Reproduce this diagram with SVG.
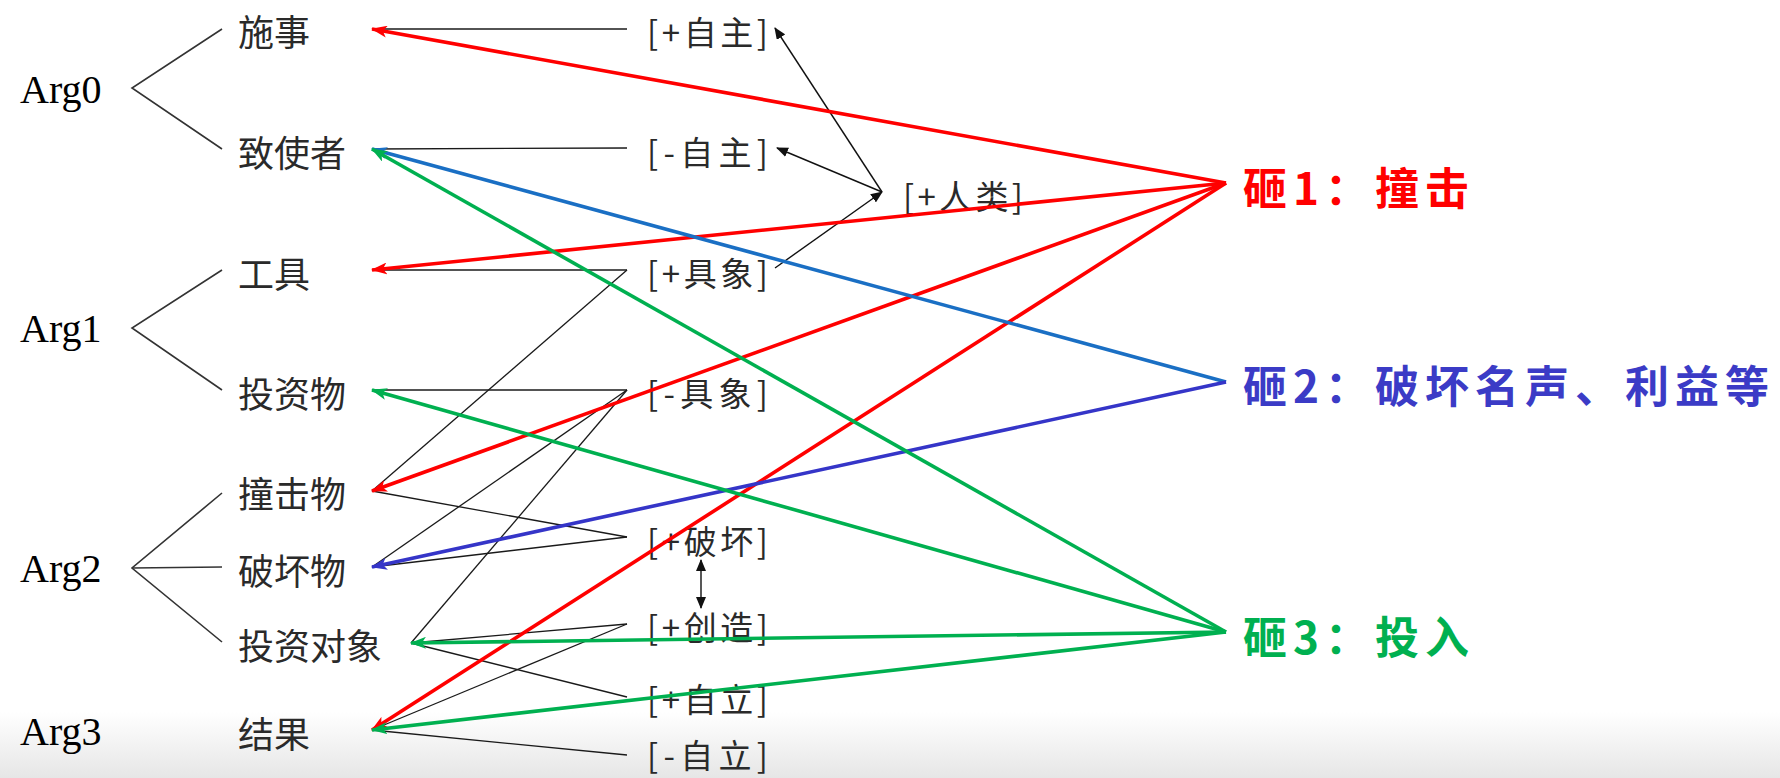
<svg xmlns="http://www.w3.org/2000/svg" width="1780" height="778" viewBox="0 0 1780 778">
<defs>
<linearGradient id="bg" x1="0" y1="0" x2="0" y2="1"><stop offset="0" stop-color="#ffffff"/><stop offset="1" stop-color="#e6e6e6"/></linearGradient>
<marker id="ar" viewBox="0 0 16 12" refX="15" refY="6" markerWidth="16" markerHeight="12" markerUnits="userSpaceOnUse" orient="auto"><path d="M0,0 L16,6 L0,12 L4,6 Z" fill="#ff0000"/></marker>
<marker id="ag" viewBox="0 0 16 12" refX="15" refY="6" markerWidth="16" markerHeight="12" markerUnits="userSpaceOnUse" orient="auto"><path d="M0,0 L16,6 L0,12 L4,6 Z" fill="#00b050"/></marker>
<marker id="ab1" viewBox="0 0 16 12" refX="15" refY="6" markerWidth="16" markerHeight="12" markerUnits="userSpaceOnUse" orient="auto"><path d="M0,0 L16,6 L0,12 L4,6 Z" fill="#1a6fc4"/></marker>
<marker id="ab2" viewBox="0 0 16 12" refX="15" refY="6" markerWidth="16" markerHeight="12" markerUnits="userSpaceOnUse" orient="auto"><path d="M0,0 L16,6 L0,12 L4,6 Z" fill="#3535c8"/></marker>
<marker id="ak" viewBox="0 0 12 10" refX="11" refY="5" markerWidth="12" markerHeight="10" markerUnits="userSpaceOnUse" orient="auto-start-reverse"><path d="M0,0 L12,5 L0,10 Z" fill="#111"/></marker>
</defs>
<style>
.arg{font-family:"Liberation Serif",serif;font-size:40px;fill:#000}
.lab{font-family:"Noto Sans CJK SC",sans-serif;font-size:36px;fill:#2a2a2a;dominant-baseline:central}
.feat{font-family:"Noto Sans CJK SC",sans-serif;font-size:33px;fill:#2a2a2a;dominant-baseline:central}
.sense{font-family:"Noto Sans CJK SC",sans-serif;font-size:44px;font-weight:bold;letter-spacing:6px;dominant-baseline:central}
.br{stroke:#333;stroke-width:1.6;fill:none}
.thin{stroke:#1a1a1a;stroke-width:1.3;fill:none}
.red{stroke:#ff0000;stroke-width:3.6;fill:none;marker-end:url(#ar)}
.grn{stroke:#00b050;stroke-width:3.6;fill:none;marker-end:url(#ag)}
.blu1{stroke:#1a6fc4;stroke-width:3.6;fill:none;marker-end:url(#ab1)}
.blu2{stroke:#3535c8;stroke-width:3.6;fill:none;marker-end:url(#ab2)}
.ka{stroke:#111;stroke-width:1.4;fill:none;marker-end:url(#ak)}
</style>
<rect x="0" y="0" width="1780" height="778" fill="#fff"/>
<rect x="0" y="712" width="1780" height="66" fill="url(#bg)"/>

<g id="arg0"><text class="arg" x="20" y="103">Arg0</text><polyline class="br" points="222,29 132,88 222,149"/></g>
<g id="arg1"><text class="arg" x="20" y="342">Arg1</text><polyline class="br" points="222,270 132,328 222,390"/></g>
<g id="arg2"><text class="arg" x="20" y="582">Arg2</text><polyline class="br" points="222,493 132,568 222,642"/><line class="br" x1="132" y1="568" x2="222" y2="567"/></g>
<g id="arg3"><text class="arg" x="20" y="745">Arg3</text></g>

<g id="shishi"><text class="lab" x="238" y="30">施事</text></g>
<g id="zhishizhe"><text class="lab" x="238" y="151">致使者</text></g>
<g id="gongju"><text class="lab" x="238" y="272">工具</text></g>
<g id="touziwu"><text class="lab" x="238" y="392">投资物</text></g>
<g id="zhuangjiwu"><text class="lab" x="238" y="492">撞击物</text></g>
<g id="pohuaiwu"><text class="lab" x="238" y="569">破坏物</text></g>
<g id="touziduixiang"><text class="lab" x="238" y="644">投资对象</text></g>
<g id="jieguo"><text class="lab" x="238" y="732">结果</text></g>

<g id="f-zizhu-p"><text class="feat" x="647" y="31" textLength="121" lengthAdjust="spacing">[+自主]</text></g>
<g id="f-zizhu-m"><text class="feat" x="647" y="151" textLength="121" lengthAdjust="spacing">[-自主]</text></g>
<g id="f-renlei"><text class="feat" x="903" y="195" textLength="120" lengthAdjust="spacing">[+人类]</text></g>
<g id="f-juxiang-p"><text class="feat" x="647" y="272" textLength="121" lengthAdjust="spacing">[+具象]</text></g>
<g id="f-juxiang-m"><text class="feat" x="647" y="392" textLength="121" lengthAdjust="spacing">[-具象]</text></g>
<g id="f-pohuai"><text class="feat" x="647" y="540" textLength="121" lengthAdjust="spacing">[+破坏]</text></g>
<g id="f-chuangzao"><text class="feat" x="647" y="626" textLength="121" lengthAdjust="spacing">[+创造]</text></g>
<g id="f-zili-p"><text class="feat" x="647" y="698" textLength="121" lengthAdjust="spacing">[+自立]</text></g>
<g id="f-zili-m"><text class="feat" x="647" y="754" textLength="121" lengthAdjust="spacing">[-自立]</text></g>

<g id="sense1"><text class="sense" x="1243" y="186" fill="#ff0000">砸1：撞击</text></g>
<g id="sense2"><text class="sense" x="1243" y="384" fill="#3b3bc6">砸2：破坏名声、利益等</text></g>
<g id="sense3"><text class="sense" x="1243" y="635" fill="#00b050">砸3：投入</text></g>

<g id="connectors">
<line class="thin" x1="372" y1="29" x2="627" y2="29"/>
<line class="thin" x1="372" y1="149" x2="627" y2="148"/>
<line class="thin" x1="372" y1="270" x2="627" y2="270"/>
<line class="thin" x1="627" y1="270" x2="372" y2="491"/>
<line class="thin" x1="372" y1="390" x2="627" y2="390"/>
<line class="thin" x1="627" y1="390" x2="372" y2="567"/>
<line class="thin" x1="627" y1="390" x2="411" y2="643"/>
<line class="thin" x1="372" y1="491" x2="627" y2="537"/>
<line class="thin" x1="372" y1="567" x2="627" y2="537"/>
<line class="thin" x1="411" y1="643" x2="627" y2="624"/>
<line class="thin" x1="411" y1="643" x2="627" y2="697"/>
<line class="thin" x1="372" y1="730" x2="627" y2="624"/>
<line class="thin" x1="372" y1="730" x2="627" y2="755"/>

<line class="ka" x1="882" y1="192" x2="775" y2="28"/>
<line class="ka" x1="882" y1="192" x2="777" y2="148"/>
<line class="ka" x1="775" y1="268" x2="882" y2="192"/>
<line class="ka" x1="701" y1="584" x2="701" y2="560"/>
<line class="ka" x1="701" y1="584" x2="701" y2="608"/>

<line class="red" x1="1226" y1="183" x2="372" y2="29"/>
<line class="red" x1="1226" y1="183" x2="372" y2="270"/>
<line class="red" x1="1226" y1="183" x2="372" y2="491"/>
<line class="red" x1="1226" y1="183" x2="372" y2="730"/>
<line class="blu1" x1="1226" y1="382" x2="372" y2="149"/>
<line class="blu2" x1="1226" y1="382" x2="372" y2="567"/>
<line class="grn" x1="1226" y1="632" x2="372" y2="149"/>
<line class="grn" x1="1226" y1="632" x2="372" y2="390"/>
<line class="grn" x1="1226" y1="632" x2="411" y2="643"/>
<line class="grn" x1="1226" y1="632" x2="372" y2="730"/>
</g>
</svg>
